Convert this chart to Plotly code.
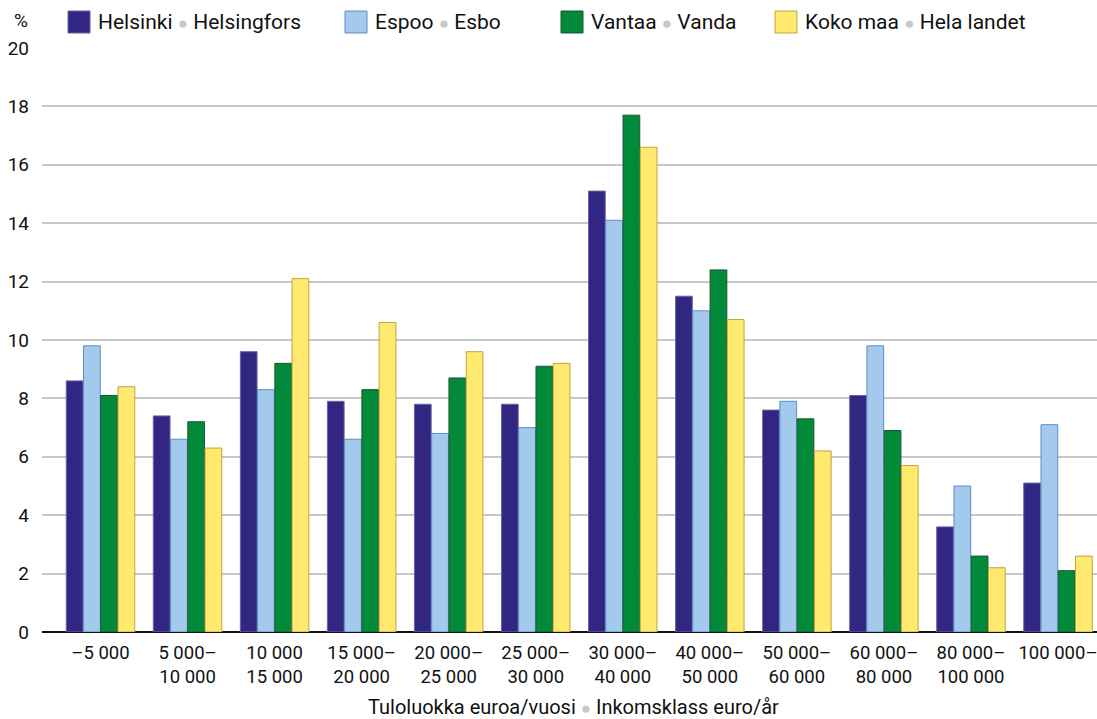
import plotly.graph_objects as go

categories = ["–5 000", "5 000–<br>10 000", "10 000<br>15 000", "15 000–<br>20 000",
              "20 000–<br>25 000", "25 000–<br>30 000", "30 000–<br>40 000", "40 000–<br>50 000",
              "50 000–<br>60 000", "60 000–<br>80 000", "80 000–<br>100 000", "100 000–"]
helsinki = [8.6, 7.4, 9.6, 7.9, 7.8, 7.8, 15.1, 11.5, 7.6, 8.1, 3.6, 5.1]
espoo    = [9.8, 6.6, 8.3, 6.6, 6.8, 7.0, 14.1, 11.0, 7.9, 9.8, 5.0, 7.1]
vantaa   = [8.1, 7.2, 9.2, 8.3, 8.7, 9.1, 17.7, 12.4, 7.3, 6.9, 2.6, 2.1]
koko     = [8.4, 6.3, 12.1, 10.6, 9.6, 9.2, 16.6, 10.7, 6.2, 5.7, 2.2, 2.6]
names_fi = ["Helsinki", "Espoo", "Vantaa", "Koko maa"]
names_sv = ["Helsingfors", "Esbo", "Vanda", "Hela landet"]
x_title_fi = "Tuloluokka euroa/vuosi"
x_title_sv = "Inkomsklass euro/år"

fills = ["#312783", "#a3c9ec", "#008a3a", "#ffe96e"]
edges = ["#6a63a8", "#5b8fc2", "#1d5530", "#bfa53c"]

W, H = 1097, 719
L, R, T, B = 42, 0, 48, 87
FONT = "Roboto"
DOT = "<span style='color:#c8c8c8;font-size:17px'>●</span>"

def px_x(p):
    return (p - L) / (W - L - R)

def px_y(p):
    return (H - B - p) / (H - T - B)

x = list(range(len(categories)))
fig = go.Figure()
for i, vals in enumerate([helsinki, espoo, vantaa, koko]):
    fig.add_trace(go.Bar(x=x, y=vals, name=names_fi[i] + " " + names_sv[i], showlegend=False,
                         marker=dict(color=fills[i], line=dict(color=edges[i], width=1))))

# legend (manual, to match large swatches)
sw_x = [68, 345, 561, 775]
for i in range(4):
    fig.add_shape(type="rect", xref="paper", yref="paper",
                  x0=px_x(sw_x[i]), x1=px_x(sw_x[i] + 22), y0=px_y(33), y1=px_y(11),
                  fillcolor=fills[i], line=dict(color=edges[i], width=1))
    fig.add_annotation(text=names_fi[i] + " " + DOT + " " + names_sv[i], xref="paper", yref="paper",
                       x=px_x(sw_x[i] + 28), y=px_y(22), xanchor="left", yanchor="middle",
                       showarrow=False, font=dict(family=FONT, size=21, color="#111111"))

fig.update_layout(
    width=W, height=H,
    margin=dict(l=L, r=R, t=T, b=B, autoexpand=False),
    plot_bgcolor="white", paper_bgcolor="white",
    barmode="group", bargap=0.207, bargroupgap=0.03,
    font=dict(family=FONT, size=19, color="#111111"),
    xaxis=dict(range=[-0.672, 11.448], tickmode="array", tickvals=x, ticktext=categories,
               showgrid=False, ticks="", showline=False, zeroline=False, ticklabelstandoff=7,
               ticklabeloverflow="allow",
               tickfont=dict(family=FONT, size=18.5, color="#111111")),
    yaxis=dict(range=[0, 20], tickvals=list(range(0, 21, 2)), showgrid=True,
               gridcolor="#c8c8c8", gridwidth=1.5, zeroline=True, zerolinecolor="#111111",
               zerolinewidth=2, ticks="", ticklabelstandoff=12,
               tickfont=dict(family=FONT, size=19, color="#111111")),
)
fig.add_annotation(text=x_title_fi + " " + DOT + " " + x_title_sv, xref="paper", yref="paper",
                   x=px_x(573), y=px_y(707), xanchor="center", yanchor="middle", showarrow=False,
                   font=dict(family=FONT, size=20, color="#111111"))
fig.add_annotation(text="%", xref="paper", yref="paper", x=px_x(21), y=px_y(20), xanchor="center",
                   yanchor="middle", showarrow=False, font=dict(family=FONT, size=19, color="#111111"))
fig.write_html("out.html", config={"displayModeBar": False},
               post_script="document.body.style.margin='0';document.body.style.overflow='hidden';")
